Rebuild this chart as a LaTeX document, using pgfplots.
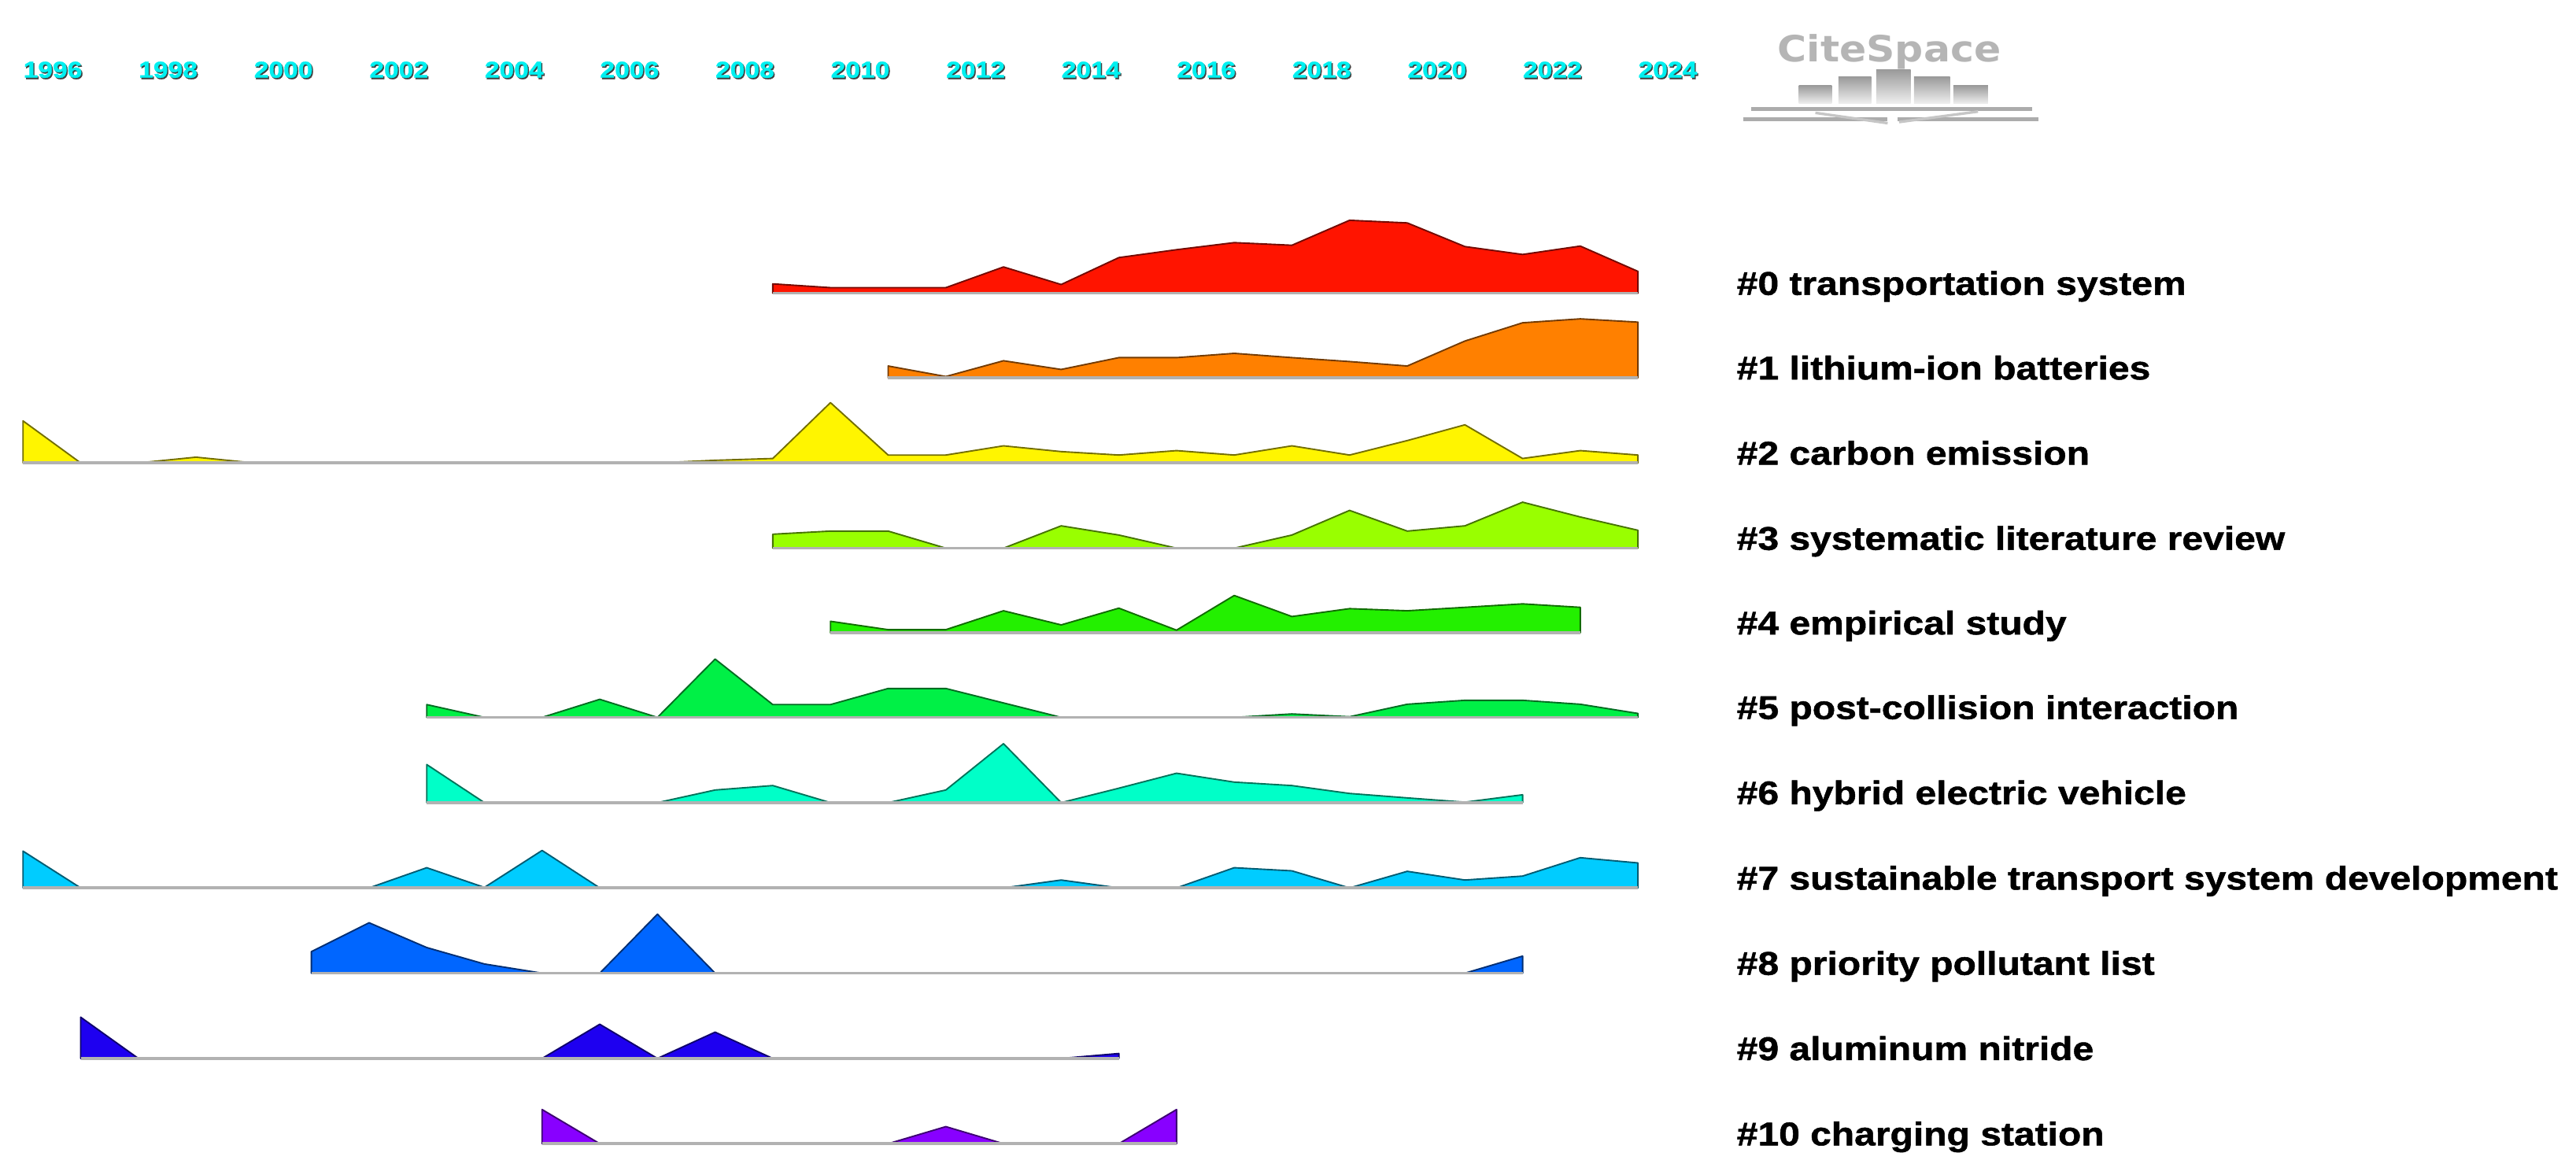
\documentclass[border=0pt]{standalone}
\usepackage{pgfplots}
\pgfplotsset{compat=1.18}
\usepackage{fontspec}
\newfontfamily\labfont[FakeStretch=1.15,FakeBold=1.2]{Liberation Sans}
\newfontfamily\logofont{DejaVu Sans}
\definecolor{c0}{RGB}{255,20,0}
\definecolor{c1}{RGB}{255,128,0}
\definecolor{c2}{RGB}{255,245,0}
\definecolor{c3}{RGB}{153,255,0}
\definecolor{c4}{RGB}{35,240,0}
\definecolor{c5}{RGB}{0,240,70}
\definecolor{c6}{RGB}{0,255,200}
\definecolor{c7}{RGB}{0,204,255}
\definecolor{c8}{RGB}{0,102,255}
\definecolor{c9}{RGB}{30,0,240}
\definecolor{c10}{RGB}{136,0,255}
\definecolor{yearcyan}{RGB}{0,240,240}
\pgfplotsset{
  baseax/.style={scale only axis, width=1568pt, xmin=1995.6012, xmax=2040.2646,
    ymin=0, hide axis, clip=false, anchor=south west},
  rowax/.style={baseax, height=50pt, ymax=50, at={(0pt,#1pt)}},
}
\tikzset{
  mtn/.style={fill=#1, draw=#1!45!black, line width=0.9pt, line join=round},
  basel/.style={draw=gray!60, line width=1.8pt},
  lab/.style={anchor=base west, inner sep=0pt, font=\labfont\bfseries\fontsize{20}{24}\selectfont},
}
\newcommand\yearfont{\labfont\bfseries\fontsize{14}{14}\selectfont}
\begin{document}
\begin{tikzpicture}
\useasboundingbox (0pt,0pt) rectangle (1568pt,715pt);
% ---- main frame: year labels
\begin{axis}[baseax, height=715pt, ymax=715, at={(0pt,0pt)}]
\pgfplotsinvokeforeach{1996,1998,...,2024}{
  \node[anchor=west, inner sep=0pt, text=black!75, font=\yearfont] at ([xshift=0.7pt,yshift=-0.8pt]axis cs:#1,672.5) {#1};
  \node[anchor=west, inner sep=0pt, text=yearcyan, font=\yearfont] at (axis cs:#1,672.5) {#1};
}
\end{axis}
% ---- #0
\begin{axis}[rowax=536.5]
\addplot[mtn=c0] table {
x y
2009 5.7
2010 3.4
2011 3.4
2012 3.4
2013 16.0
2014 5.3
2015 21.7
2016 26.5
2017 30.8
2018 29.2
2019 44.4
2020 42.8
2021 28.4
2022 23.6
2023 28.7
2024 13.3
} \closedcycle;
\addplot[basel] coordinates {(2009,0) (2024,0)};
\node[lab] at (axis cs:2025.709,-1) {\#0 transportation system};
\end{axis}
% ---- #1
\begin{axis}[rowax=485.0]
\addplot[mtn=c1] table {
x y
2011 7.2
2012 0.8
2013 10.4
2014 5.1
2015 12.3
2016 12.3
2017 14.9
2018 12.3
2019 9.9
2020 7.2
2021 22.4
2022 33.5
2023 35.9
2024 33.9
} \closedcycle;
\addplot[basel] coordinates {(2011,0) (2024,0)};
\node[lab] at (axis cs:2025.709,-1) {\#1 lithium-ion batteries};
\end{axis}
% ---- #2
\begin{axis}[rowax=433.2]
\addplot[mtn=c2] table {
x y
1996 25.6
1997 0
1998 0
1999 3.5
2000 0
2001 0
2002 0
2003 0
2004 0
2005 0
2006 0
2007 0
2008 1.6
2009 2.7
2010 36.7
2011 4.8
2012 4.8
2013 10.4
2014 6.9
2015 4.8
2016 7.5
2017 4.8
2018 10.4
2019 4.8
2020 13.6
2021 23.2
2022 2.7
2023 7.5
2024 4.8
} \closedcycle;
\addplot[basel] coordinates {(1996,0) (2024,0)};
\node[lab] at (axis cs:2025.709,-1) {\#2 carbon emission};
\end{axis}
% ---- #3
\begin{axis}[rowax=381.3]
\addplot[mtn=c3] table {
x y
2009 8.5
2010 10.4
2011 10.4
2012 0
2013 0
2014 13.6
2015 8.0
2016 0
2017 0
2018 8.0
2019 23.0
2020 10.4
2021 13.6
2022 28.0
2023 19.0
2024 10.9
} \closedcycle;
\addplot[basel] coordinates {(2009,0) (2024,0)};
\node[lab] at (axis cs:2025.709,-1) {\#3 systematic literature review};
\end{axis}
% ---- #4
\begin{axis}[rowax=329.8]
\addplot[mtn=c4] table {
x y
2010 7.0
2011 1.9
2012 1.9
2013 13.4
2014 4.8
2015 15.0
2016 1.6
2017 22.7
2018 9.9
2019 14.7
2020 13.4
2021 15.5
2022 17.6
2023 15.5
} \closedcycle;
\addplot[basel] coordinates {(2010,0) (2023,0)};
\node[lab] at (axis cs:2025.709,-1) {\#4 empirical study};
\end{axis}
% ---- #5
\begin{axis}[rowax=278.3]
\addplot[mtn=c5] table {
x y
2003 7.8
2004 0
2005 0
2006 11.0
2007 0
2008 35.5
2009 7.8
2010 7.8
2011 17.6
2012 17.6
2013 8.8
2014 0
2015 0
2016 0
2017 0
2018 2.1
2019 0.4
2020 8.0
2021 10.4
2022 10.4
2023 8.0
2024 2.4
} \closedcycle;
\addplot[basel] coordinates {(2003,0) (2024,0)};
\node[lab] at (axis cs:2025.709,-1) {\#5 post-collision interaction};
\end{axis}
% ---- #6
\begin{axis}[rowax=226.4]
\addplot[mtn=c6] table {
x y
2003 23.2
2004 0
2005 0
2006 0
2007 0
2008 7.7
2009 10.4
2010 0
2011 0
2012 7.7
2013 35.9
2014 0
2015 8.8
2016 17.9
2017 12.5
2018 10.4
2019 5.6
2020 2.9
2021 0.3
2022 4.8
} \closedcycle;
\addplot[basel] coordinates {(2003,0) (2022,0)};
\node[lab] at (axis cs:2025.709,-1) {\#6 hybrid electric vehicle};
\end{axis}
% ---- #7
\begin{axis}[rowax=174.5]
\addplot[mtn=c7] table {
x y
1996 22.4
1997 0
1998 0
1999 0
2000 0
2001 0
2002 0
2003 12.3
2004 0.3
2005 22.8
2006 0
2007 0
2008 0
2009 0
2010 0
2011 0
2012 0
2013 0
2014 4.8
2015 0
2016 0
2017 12.3
2018 10.4
2019 0
2020 10.1
2021 4.8
2022 7.2
2023 18.4
2024 15.2
} \closedcycle;
\addplot[basel] coordinates {(1996,0) (2024,0)};
\node[lab] at (axis cs:2025.709,-1) {\#7 sustainable transport system development};
\end{axis}
% ---- #8
\begin{axis}[rowax=122.6]
\addplot[mtn=c8] table {
x y
2001 13.1
2002 30.7
2003 15.6
2004 5.6
2005 0
2006 0
2007 35.9
2008 0
2009 0
2010 0
2011 0
2012 0
2013 0
2014 0
2015 0
2016 0
2017 0
2018 0
2019 0
2020 0
2021 0
2022 10.4
} \closedcycle;
\addplot[basel] coordinates {(2001,0) (2022,0)};
\node[lab] at (axis cs:2025.709,-1) {\#8 priority pollutant list};
\end{axis}
% ---- #9
\begin{axis}[rowax=70.7]
\addplot[mtn=c9] table {
x y
1997 25.1
1998 0
1999 0
2000 0
2001 0
2002 0
2003 0
2004 0
2005 0
2006 20.8
2007 0
2008 16.0
2009 0
2010 0
2011 0
2012 0
2013 0
2014 0
2015 3.0
} \closedcycle;
\addplot[basel] coordinates {(1997,0) (2015,0)};
\node[lab] at (axis cs:2025.709,-1) {\#9 aluminum nitride};
\end{axis}
% ---- #10
\begin{axis}[rowax=18.8]
\addplot[mtn=c10] table {
x y
2005 20.8
2006 0
2007 0
2008 0
2009 0
2010 0
2011 0
2012 10.4
2013 0
2014 0
2015 0
2016 20.8
} \closedcycle;
\addplot[basel] coordinates {(2005,0) (2016,0)};
\node[lab] at (axis cs:2025.709,-1) {\#10 charging station};
\end{axis}
% ---- CiteSpace logo (decoration)
\node[inner sep=0pt, xscale=1.1, text=gray!58, font=\logofont\bfseries\fontsize{22}{22}\selectfont] at (1150pt,683.5pt) {CiteSpace};
\foreach \xa/\xb/\yt in {1095/1115/663.2, 1119/1139/668.5, 1142/1163/672.8, 1165/1187/668.5, 1189/1210/663.2}{
  \shade[top color=gray!80, bottom color=gray!12] (\xa pt,651.8pt) rectangle (\xb pt,\yt pt);
}
\draw[gray!65, line width=2.6pt] (1066pt,648.7pt) -- (1237pt,648.7pt);
\draw[gray!65, line width=2.6pt] (1061pt,642.3pt) -- (1149pt,642.3pt);
\draw[gray!65, line width=2.6pt] (1155pt,642.3pt) -- (1241pt,642.3pt);
\draw[gray!45, line width=1.6pt] (1105pt,646.3pt) -- (1149pt,640pt);
\draw[gray!45, line width=1.6pt] (1156pt,640.7pt) -- (1204pt,647.1pt);
\end{tikzpicture}
\end{document}
